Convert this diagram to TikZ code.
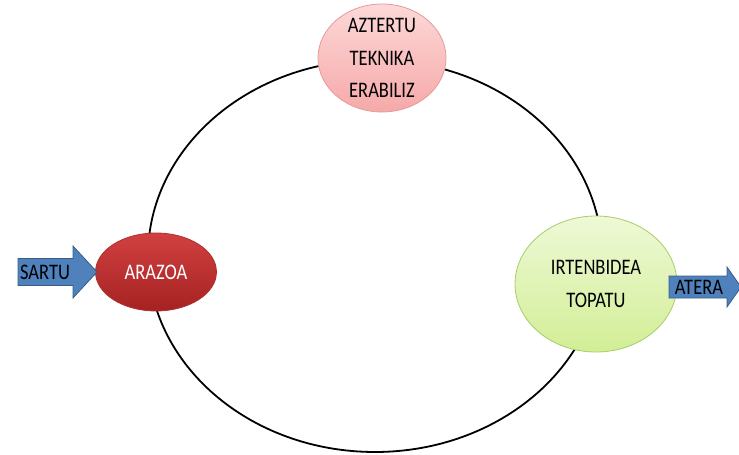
\documentclass[tikz,border=0pt]{standalone}
\usepackage{fontspec}
\setmainfont{Carlito}
\usetikzlibrary{shapes.geometric}
\definecolor{arrowfill}{HTML}{4F81BD}
\definecolor{arrowline}{HTML}{385D8A}
\definecolor{pinktop}{HTML}{FDD8D8}
\definecolor{pinkbot}{HTML}{F6A9A9}
\definecolor{pinkline}{HTML}{E59A9A}
\definecolor{redtop}{HTML}{D24040}
\definecolor{redbot}{HTML}{A52222}
\definecolor{redline}{HTML}{B03030}
\definecolor{greentop}{HTML}{EEF9D6}
\definecolor{greenbot}{HTML}{D2EE96}
\definecolor{greenline}{HTML}{A9CC6A}
\tikzset{
  lbl/.style={font=\fontsize{18.5}{27}\selectfont, align=center, inner sep=0pt},
  stage/.style={ellipse, draw, line width=0.8pt, inner sep=0pt},
  bigring/.style={draw=black, line width=1.8pt},
  blockarrow/.style={fill=arrowfill, draw=arrowline, line width=0.8pt, line join=miter}
}
\begin{document}
\begin{tikzpicture}[x=1pt,y=-1pt]
\useasboundingbox (0,0) rectangle (739,455);
% big cycle
\draw[bigring] (375,256) ellipse [x radius=227, y radius=196];
% stages
\node[stage, draw=pinkline, top color=pinktop, bottom color=pinkbot,
      minimum width=128, minimum height=108] (aztertu) at (382,58) {};
\node[lbl, yscale=1.2] at (aztertu) {AZTERTU\\TEKNIKA\\ERABILIZ};
\node[stage, draw=redline, top color=redtop, bottom color=redbot,
      minimum width=121, minimum height=78] (arazoa) at (156,272) {};
\node[lbl, yscale=1.2, text=white] at (arazoa) {ARAZOA};
\node[stage, draw=greenline, top color=greentop, bottom color=greenbot,
      minimum width=162, minimum height=136] (irtenbidea) at (596,284) {};
\node[lbl, yscale=1.2] at (irtenbidea) {IRTENBIDEA\\TOPATU};
% input arrow
\coordinate (sartuend) at (97,272);
\draw[blockarrow] (18,258.5) -- (73,258.5) -- (73,246) -- (sartuend) -- (73,298) -- (73,285.5) -- (18,285.5) -- cycle;
\node[lbl, yscale=1.2] (sartu) at (45,272) {SARTU};
% output arrow
\coordinate (ateraend) at (741,287);
\draw[blockarrow] (669,276) -- (727,276) -- (727,267) -- (ateraend) -- (727,307) -- (727,298) -- (669,298) -- cycle;
\node[lbl, yscale=1.2] (atera) at (699,287) {ATERA};
\end{tikzpicture}
\end{document}
